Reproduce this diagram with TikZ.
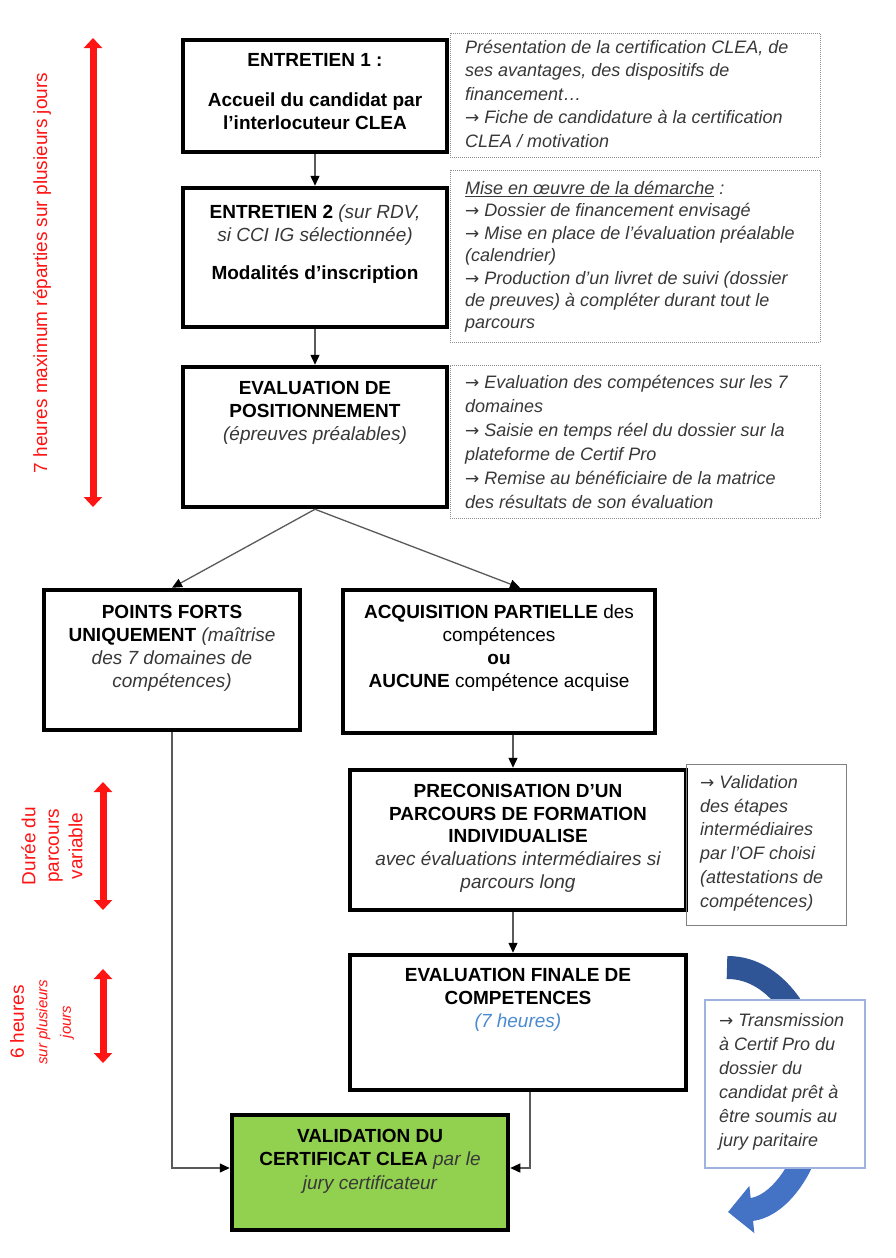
\documentclass[tikz,border=0pt]{standalone}
\usepackage{fontspec}
\setmainfont{Liberation Sans}
\newfontfamily\arrfont{DejaVu Sans}
\usetikzlibrary{arrows.meta}
\definecolor{txtgray}{HTML}{383838}
\definecolor{lnk}{HTML}{5A5A5A}
\definecolor{vgreen}{HTML}{92D050}
\definecolor{bluetop}{HTML}{2F5597}
\definecolor{bluebot}{HTML}{4472C4}
\definecolor{bluebox}{HTML}{9DB5DE}
\definecolor{bluetxt}{HTML}{4A8AD0}
\definecolor{redarr}{HTML}{FF1414}
\definecolor{dotgray}{HTML}{8C8C8C}
\newcommand{\gi}[1]{{\itshape\color{txtgray}#1}}
\newcommand{\rarr}{{\arrfont\upshape\fontsize{17}{17}\selectfont →}}
\begin{document}
\begin{tikzpicture}[x=1pt,y=-1pt,
  mainbox/.style={draw=black, line width=4.5pt, inner sep=0pt},
  sidebox/.style={draw=dotgray, line width=1pt, densely dotted, inner sep=0pt},
  mtxt/.style={inner sep=0pt, align=center, font=\fontsize{19}{23}\selectfont, anchor=north},
  stxt/.style={inner sep=0pt, align=left, font=\fontsize{18}{23.5}\selectfont\itshape, text=txtgray, anchor=north west},
  conn/.style={draw=lnk, line width=1.3pt, -{Triangle[width=9pt,length=10pt,color=black]}},
  redarrow/.style={draw=redarr, line width=7pt, {Triangle[width=18pt,length=10pt]}-{Triangle[width=18pt,length=10pt]}},
  redtxt/.style={inner sep=0pt, align=center, text=redarr, rotate=90, font=\fontsize{19}{23.5}\selectfont}
]
\useasboundingbox (0,0) rectangle (895,1258);
\fill[white] (0,0) rectangle (895,1258);

% red duration arrows
\coordinate (r1a) at (93,38); \coordinate (r1b) at (93,507);
\coordinate (r2a) at (103,782); \coordinate (r2b) at (103,910);
\coordinate (r3a) at (103,969); \coordinate (r3b) at (103,1063);
\draw[redarrow] (r1a) -- (r1b);
\draw[redarrow] (r2a) -- (r2b);
\draw[redarrow] (r3a) -- (r3b);
\node[redtxt] (r1t) at (42,273) {7 heures maximum réparties sur plusieurs jours};
\node[redtxt] (r2t) at (52,846) {Durée du\\parcours\\variable};
\node[redtxt] (r3t) at (42,1022) {6 heures\\{\itshape\fontsize{15}{19}\selectfont sur plusieurs}\\{\itshape\fontsize{15}{19}\selectfont jours}};

% main boxes
\node[mainbox, minimum width=264pt, minimum height=112pt] (e1) at (315,96) {};
\node[mainbox, minimum width=264pt, minimum height=139pt] (e2) at (315,257.5) {};
\node[mainbox, minimum width=264pt, minimum height=140pt] (e3) at (315,437) {};
\node[mainbox, minimum width=256pt, minimum height=140pt] (pf) at (172,660) {};
\node[mainbox, minimum width=312pt, minimum height=143pt] (ap) at (499,661.5) {};
\node[mainbox, minimum width=336pt, minimum height=140pt] (preco) at (518,840) {};
\node[mainbox, minimum width=336pt, minimum height=135pt] (ef) at (518,1022.5) {};
\node[mainbox, fill=vgreen, minimum width=276pt, minimum height=115pt] (val) at (370,1172.5) {};

% side boxes
\node[sidebox, minimum width=370pt, minimum height=124pt] (d1) at (635,95) {};
\node[sidebox, minimum width=370pt, minimum height=172pt] (d2) at (635,256) {};
\node[sidebox, minimum width=370pt, minimum height=153pt] (d3) at (635,441.5) {};
\node[draw=gray, line width=1pt, inner sep=0pt, minimum width=160pt, minimum height=161pt] (vb) at (766,844.5) {};

% blue curved arrow and its box
\coordinate (bs) at (727,967.5);
\coordinate (bm) at (818,1090);
\coordinate (be) at (728,1212);
\draw[draw=bluetop, line width=23pt] (bs) .. controls (780,967) and (815,1030) .. (bm);
\draw[draw=bluebot, line width=23pt, -{Triangle[width=46pt,length=24pt]}] (bm) .. controls (818,1150) and (785,1206) .. (be);
\node[draw=bluebox, fill=white, line width=1.2pt, inner sep=0pt, minimum width=160pt, minimum height=168pt] (tb) at (785,1084) {};

% texts
\node[mtxt] (e1t) at (315,53) {\bfseries ENTRETIEN 1 :\\[17pt]\bfseries Accueil du candidat par\\\bfseries l’interlocuteur CLEA};
\node[mtxt] (e2t) at (315,205) {\textbf{ENTRETIEN 2} \gi{(sur RDV,}\\\gi{si CCI IG sélectionnée)}\\[15pt]\textbf{Modalités d’inscription}};
\node[mtxt] (e3t) at (315,381) {\textbf{EVALUATION DE}\\\textbf{POSITIONNEMENT}\\\gi{(épreuves préalables)}};
\node[mtxt] (pft) at (172,605) {\textbf{POINTS FORTS}\\\textbf{UNIQUEMENT} \gi{(maîtrise}\\\gi{des 7 domaines de}\\\gi{compétences)}};
\node[mtxt] (apt) at (499,605) {\textbf{ACQUISITION PARTIELLE} des\\compétences\\\textbf{ou}\\\textbf{AUCUNE} compétence acquise};
\node[mtxt, font=\fontsize{19}{22.75}\selectfont] (precot) at (518,784) {\textbf{PRECONISATION D’UN}\\\textbf{PARCOURS DE FORMATION}\\\textbf{INDIVIDUALISE}\\\gi{avec évaluations intermédiaires si}\\\gi{parcours long}};
\node[mtxt] (eft) at (518,968) {\textbf{EVALUATION FINALE DE}\\\textbf{COMPETENCES}\\{\itshape\color{bluetxt}(7 heures)}};
\node[mtxt, font=\fontsize{19}{23.5}\selectfont] (valt) at (370,1129) {\textbf{VALIDATION DU}\\\textbf{CERTIFICAT CLEA} \gi{par le}\\\gi{jury certificateur}};

\node[stxt] (d1t) at (465,40) {Présentation de la certification CLEA, de\\ses avantages, des dispositifs de\\financement…\\\rarr{} Fiche de candidature à la certification\\CLEA / motivation};
\node[stxt, font=\fontsize{18}{22.4}\selectfont\itshape] (d2t) at (465,181) {\underline{Mise en œuvre de la démarche} :\\\rarr{} Dossier de financement envisagé\\\rarr{} Mise en place de l’évaluation préalable\\(calendrier)\\\rarr{} Production d’un livret de suivi (dossier\\de preuves) à compléter durant tout le\\parcours};
\node[stxt, font=\fontsize{18}{24}\selectfont\itshape] (d3t) at (465,375) {\rarr{} Evaluation des compétences sur les 7\\domaines\\\rarr{} Saisie en temps réel du dossier sur la\\plateforme de Certif Pro\\\rarr{} Remise au bénéficiaire de la matrice\\des résultats de son évaluation};
\node[stxt, font=\fontsize{18}{23.8}\selectfont\itshape] (vbt) at (700,775) {\rarr{} Validation\\des étapes\\intermédiaires\\par l’OF choisi\\(attestations de\\compétences)};
\node[stxt, font=\fontsize{18}{24}\selectfont\itshape] (tbt) at (719,1013) {\rarr{} Transmission\\à Certif Pro du\\dossier du\\candidat prêt à\\être soumis au\\jury paritaire};

% connectors
\draw[conn] (e1.south) -- (e2.north);
\draw[conn] (e2.south) -- (e3.north);
\draw[conn] (e3.south) -- (pf.north);
\draw[conn] (e3.south) -- ([xshift=21pt]ap.north);
\draw[conn] ([xshift=14pt]ap.south) -- ([xshift=-5pt]preco.north);
\draw[conn] ([xshift=-5pt]preco.south) -- ([xshift=-5pt]ef.north);
\draw[conn] (pf.south) |- ([yshift=4.5pt]val.west);
\draw[conn] ([xshift=12pt]ef.south) |- ([yshift=4.5pt]val.east);
\end{tikzpicture}
\end{document}
